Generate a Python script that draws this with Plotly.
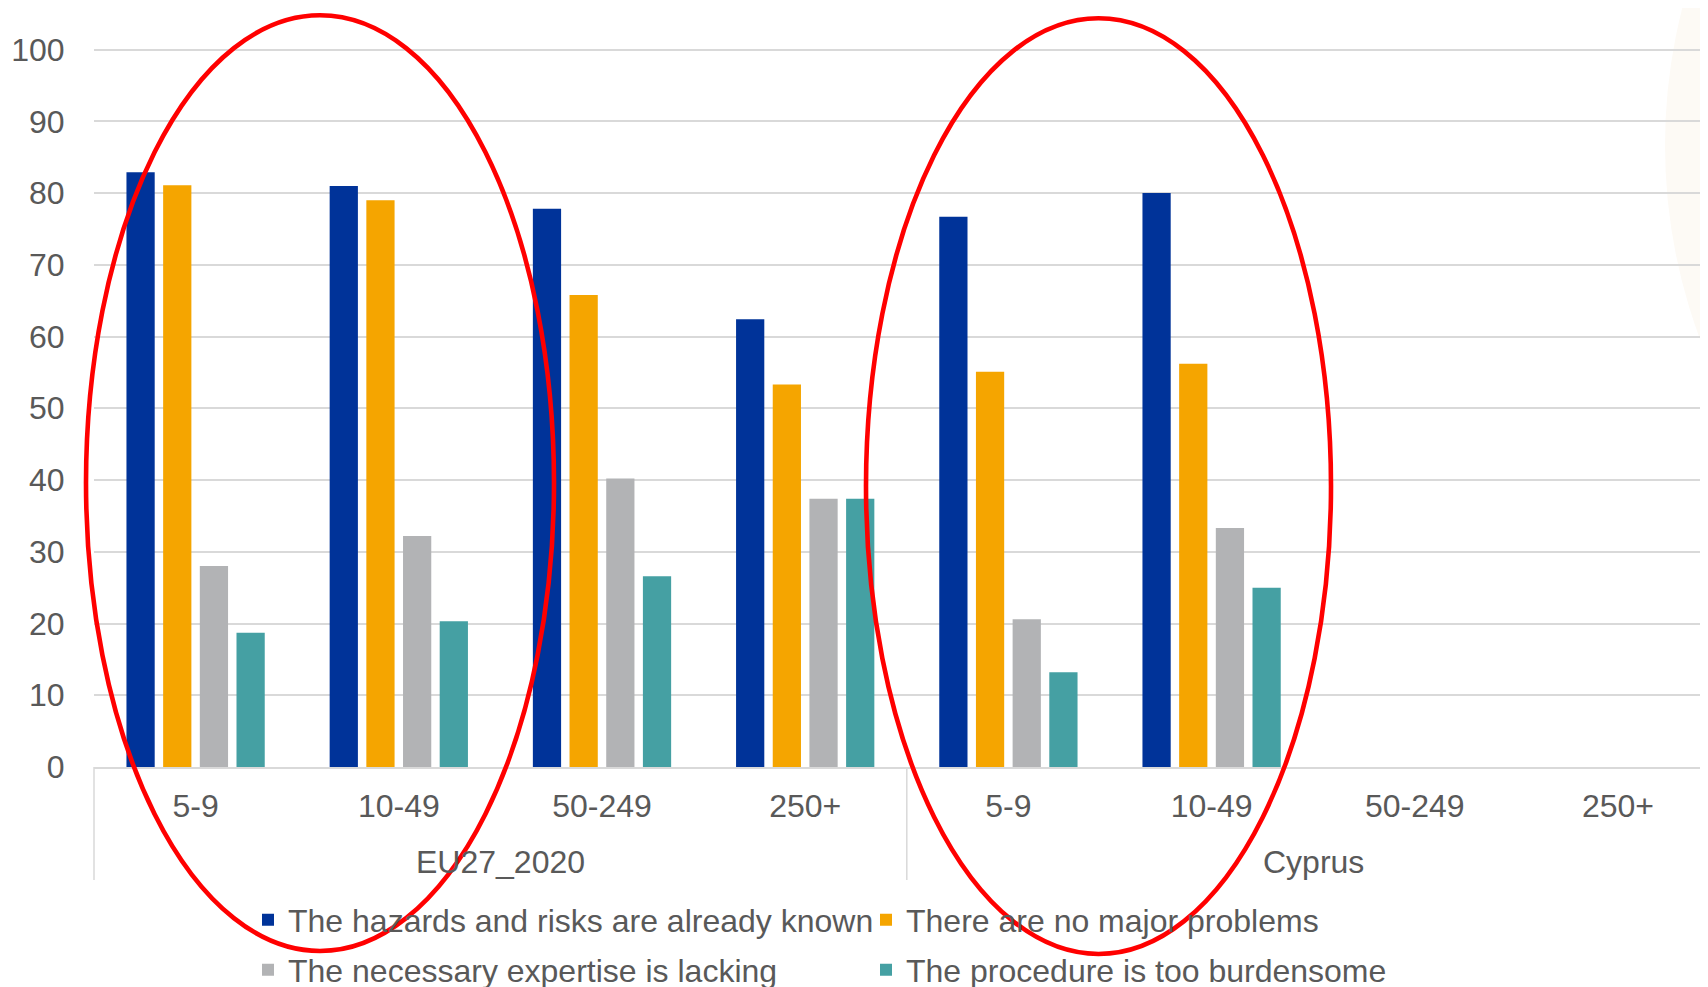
import plotly.graph_objects as go

# ---- data ----
size_classes = ["5-9", "10-49", "50-249", "250+"]
regions = ["EU27_2020", "Cyprus"]
ticklabels = size_classes * 2
known = [82.9, 81.0, 77.8, 62.4, 76.7, 80.0, None, None]
no_problems = [81.1, 79.0, 65.8, 53.3, 55.1, 56.2, None, None]
expertise = [28.0, 32.2, 40.2, 37.4, 20.6, 33.3, None, None]
burdensome = [18.7, 20.3, 26.6, 37.4, 13.2, 25.0, None, None]
series_names = [
    "The hazards and risks are already known",
    "There are no major problems",
    "The necessary expertise is lacking",
    "The procedure is too burdensome",
]
colors = ["#003399", "#F5A500", "#B2B3B5", "#45A0A3"]

O = 8  # page body margin
W, H = 1700, 979
YMAX = 100.5
PX_PER_UNIT = 7.177
L = 94 - O
R = 0
PH = YMAX * PX_PER_UNIT
BOT = 767 - O
T = BOT - PH
B = H - BOT
PW = W - L - R
TXT = "#595959"
GRID = "#D9D9D9"
FONT = "Liberation Sans, Arial, sans-serif"
FS = 32

def px_x(px):  # screen px -> paper
    return (px - O - L) / PW

def px_y(py):
    return (BOT - (py - O)) / PH

x_idx = list(range(len(ticklabels)))
cat_w = 203.2
x_max = -0.5 + PW / cat_w

fig = go.Figure()
vals = [known, no_problems, expertise, burdensome]
for i, (name, v, c) in enumerate(zip(series_names, vals, colors)):
    fig.add_trace(go.Bar(
        x=x_idx, y=v, name=name, marker=dict(color=c, line=dict(width=0)),
        legend="legend" if i < 2 else "legend2",
    ))

shapes = []
shapes.append(dict(type="circle", xref="paper", yref="paper",
                   x0=px_x(1665), x1=px_x(2775), y0=px_y(700), y1=px_y(-410),
                   fillcolor="#FDFAF5", line=dict(width=0), layer="below"))
for xv in [-0.5, 3.5]:
    xp = (xv + 0.5) / (x_max + 0.5)
    shapes.append(dict(type="line", xref="paper", yref="paper",
                       x0=xp, x1=xp, y0=px_y(767), y1=px_y(880),
                       line=dict(color=GRID, width=1.5)))
for (x0, x1, y0, y1) in [(86, 554, 15, 951), (866, 1331, 18, 954)]:
    shapes.append(dict(type="circle", xref="paper", yref="paper",
                       x0=px_x(x0), x1=px_x(x1), y0=px_y(y1), y1=px_y(y0),
                       line=dict(color="#FF0000", width=4.6), layer="above"))

annotations = []
for gi, g in enumerate(regions):
    annotations.append(dict(text=g, x=gi * 4 + 1.5, xref="x", y=px_y(862), yref="paper",
                            showarrow=False, xanchor="center", yanchor="middle",
                            font=dict(size=FS, color=TXT, family=FONT)))

legend_common = dict(orientation="h", xanchor="left", yanchor="middle",
                     entrywidth=573, entrywidthmode="pixels",
                     font=dict(size=FS, color=TXT, family=FONT),
                     bgcolor="rgba(0,0,0,0)")

fig.update_layout(
    width=W, height=H,
    margin=dict(l=L, r=R, t=T, b=B, autoexpand=False),
    paper_bgcolor="white", plot_bgcolor="rgba(0,0,0,0)",
    barmode="group", bargap=0.278, bargroupgap=0.23,
    font=dict(family=FONT, size=FS, color=TXT),
    shapes=shapes, annotations=annotations,
    legend=dict(x=px_x(248), y=px_y(920), **legend_common),
    legend2=dict(x=px_x(248), y=px_y(970), **legend_common),
    xaxis=dict(range=[-0.5, x_max], tickmode="array", tickvals=x_idx, ticktext=ticklabels,
               showgrid=False, zeroline=False, showline=True, linecolor=GRID, linewidth=1.5,
               ticks="outside", ticklen=10, tickcolor="rgba(0,0,0,0)",
               tickfont=dict(size=FS, color=TXT)),
    yaxis=dict(range=[0, YMAX], tickmode="array", tickvals=list(range(0, 101, 10)),
               showgrid=True, gridcolor=GRID, gridwidth=1.5,
               zeroline=False, showline=False,
               ticks="outside", ticklen=22, tickcolor="rgba(0,0,0,0)",
               tickfont=dict(size=FS, color=TXT)),
)

fig.write_html("out.html")
